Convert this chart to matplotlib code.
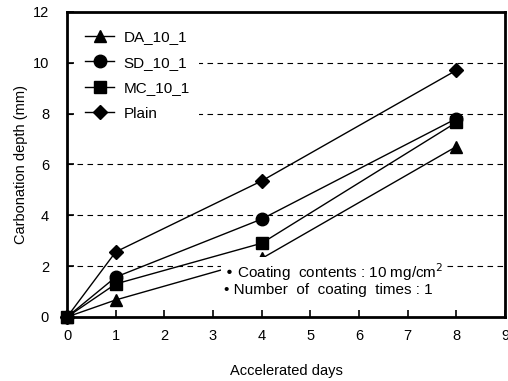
import matplotlib.pyplot as plt
import numpy as np

plt.rcParams['font.family'] = ['Liberation Sans', 'DejaVu Sans']

days = [0, 1, 4, 8]
da_10_1 = [0.0, 0.67, 2.3, 6.7]
sd_10_1 = [0.0, 1.57, 3.85, 7.8]
mc_10_1 = [0.0, 1.3, 2.9, 7.65]
plain = [0.0, 2.56, 5.35, 9.7]

fig = plt.figure(figsize=(5.08, 3.81), dpi=100)
ax = fig.add_axes([0.132, 0.168, 0.862, 0.801])

ax.plot(days, da_10_1, 'k-', marker='^', ms=9, lw=1, label='DA_10_1', clip_on=False, zorder=3)
ax.plot(days, sd_10_1, 'k-', marker='o', ms=9, lw=1, label='SD_10_1', clip_on=False, zorder=3)
ax.plot(days, mc_10_1, 'k-', marker='s', ms=8, lw=1, label='MC_10_1', clip_on=False, zorder=3)
ax.plot(days, plain, 'k-', marker='D', ms=7, lw=1, label='Plain', clip_on=False, zorder=3)

ax.set_xlim(0, 9)
ax.set_ylim(0, 12)
ax.set_xticks(range(10))
ax.set_yticks(range(0, 13, 2))
for y in range(2, 12, 2):
    ax.axhline(y, color='k', ls=(0, (5, 4)), lw=0.8, zorder=1)

for s in ax.spines.values():
    s.set_linewidth(2)
ax.tick_params(direction='in', length=5, width=1.2, labelsize=10.5)
ax.tick_params(axis='x', pad=9)
ax.tick_params(axis='y', pad=13)

ax.set_xlabel('Accelerated days', fontsize=10.5, labelpad=15)
ax.set_ylabel('Carbonation depth (mm)', fontsize=10.5, labelpad=3)

ax.text(3.22, 0.9, '• Coating  contents : 10 mg/cm$^2$\n• Number  of  coating  times : 1',
        fontsize=11, linespacing=1.0, zorder=4,
        bbox=dict(facecolor='white', edgecolor='none', pad=2))

leg = ax.legend(loc='upper left', frameon=True, handlelength=1.9, handletextpad=0.6,
                labelspacing=0.75, fontsize=11, borderaxespad=0.6, fancybox=False,
                edgecolor='none', facecolor='white', framealpha=1, borderpad=0.6)
leg.set_zorder(5)

fig.savefig('out.png', dpi=100)
